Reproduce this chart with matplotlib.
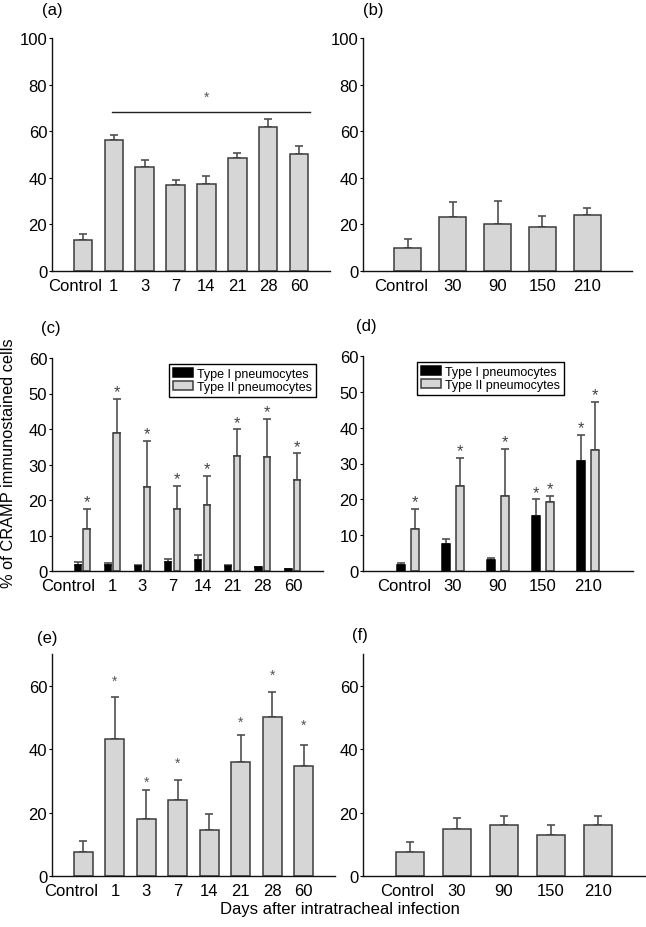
import matplotlib
matplotlib.use('Agg')
import matplotlib.pyplot as plt
import matplotlib.transforms as mtransforms
import numpy as np

plt.rcParams['font.family'] = ['Liberation Sans', 'DejaVu Sans']

# ---------------- data ----------------
early_days = ['Control', '1', '3', '7', '14', '21', '28', '60']
late_days = ['Control', '30', '90', '150', '210']

a_mean = [13.4, 56.1, 44.6, 37.1, 37.3, 48.4, 61.7, 50.3]
a_err = [2.6, 2.3, 3.0, 1.8, 3.3, 2.2, 3.4, 3.4]
a_sig_line_y = 68.4
a_star_y = 74.6

b_mean = [10.0, 23.2, 20.3, 19.0, 24.2]
b_err = [3.6, 6.2, 9.6, 4.6, 2.7]

c_type1_mean = [1.6, 1.6, 1.4, 2.6, 3.2, 1.3, 1.0, 0.5]
c_type1_err = [0.8, 0.7, 0.2, 0.9, 1.4, 0.3, 0.1, 0.0]
c_type2_mean = [11.9, 38.9, 23.8, 17.6, 18.6, 32.4, 32.1, 25.5]
c_type2_err = [5.7, 9.6, 12.8, 6.3, 8.3, 7.5, 10.8, 7.6]
c_type1_sig = [False] * 8
c_type2_sig = [True] * 8

d_type1_mean = [1.6, 7.6, 3.1, 15.4, 30.6]
d_type1_err = [0.6, 1.2, 0.6, 4.6, 7.4]
d_type2_mean = [11.8, 23.6, 21.0, 19.3, 33.8]
d_type2_err = [5.6, 7.9, 13.1, 1.6, 13.5]
d_type1_sig = [False, False, False, True, True]
d_type2_sig = [True, True, True, True, True]

e_mean = [7.7, 43.3, 17.9, 23.9, 14.5, 36.0, 50.1, 34.8]
e_err = [3.4, 13.1, 9.2, 6.5, 5.0, 8.5, 7.9, 6.6]
e_star_y = [None, 61.6, 29.7, 35.7, None, 48.6, 63.3, 47.8]

f_mean = [7.7, 14.8, 16.0, 12.9, 16.0]
f_err = [3.0, 3.4, 2.8, 3.3, 3.0]

series_labels = ['Type I pneumocytes', 'Type II pneumocytes']
ylabel = '% of CRAMP immunostained cells'
xlabel = 'Days after intratracheal infection'

# ---------------- style ----------------
W, H = 646, 928
fig = plt.figure(figsize=(W / 100, H / 100), dpi=100)

FILL = '#d6d6d6'
EDGE = '#3c3c3c'
ERRC = '#505050'
FS = 12


def ax_at(l, r, t, b):
    return fig.add_axes([l / W, 1 - b / H, (r - l) / W, (b - t) / H])


def style(ax, ylim, yticks, labels, ctrl_shift_px):
    ax.set_xlim(-1, len(labels))
    ax.set_ylim(*ylim)
    ax.set_yticks(yticks)
    for s in ('top', 'right'):
        ax.spines[s].set_visible(False)
    for s in ('left', 'bottom'):
        ax.spines[s].set_linewidth(1.0)
        ax.spines[s].set_color('#111111')
    ax.set_xticks(range(len(labels)))
    ax.set_xticklabels(labels)
    ax.tick_params(axis='x', length=0, pad=5, labelsize=FS)
    ax.tick_params(axis='y', length=2.5, width=0.8, pad=1, labelsize=FS, direction='out')
    lab = ax.get_xticklabels()[0]
    off = mtransforms.ScaledTranslation(ctrl_shift_px / 100, 0, fig.dpi_scale_trans)
    lab.set_transform(lab.get_transform() + off)


def bars(ax, x, mean, err, width, color, edge, capsize=2.6):
    ax.errorbar(x, mean, yerr=[np.zeros(len(err)), err], fmt='none', ecolor=ERRC,
                elinewidth=1.2, capsize=capsize, capthick=1.2, zorder=1)
    return ax.bar(x, mean, width, color=color, edgecolor=edge, linewidth=1.1, zorder=2)


# (a)
ax = ax_at(52, 330, 39, 272)
x = np.arange(len(early_days))
bars(ax, x, a_mean, a_err, 0.6, FILL, EDGE)
style(ax, (0, 100), [0, 20, 40, 60, 80, 100], early_days, -8)
ax.plot([0.95, 7.35], [a_sig_line_y, a_sig_line_y], color='#222222', lw=1.0)
ax.text(4.0, a_star_y, '*', ha='center', va='center', fontsize=10, color='#555555')

# (b)
ax = ax_at(363, 632, 39, 272)
x = np.arange(len(late_days))
bars(ax, x, b_mean, b_err, 0.6, FILL, EDGE)
style(ax, (0, 100), [0, 20, 40, 60, 80, 100], late_days, -7)


def grouped(ax, labels, m1, e1, m2, e2, s1, s2, off, width, shift):
    x = np.arange(len(labels))
    h1 = bars(ax, x - off, m1, e1, width, 'black', 'black')
    h2 = bars(ax, x + off, m2, e2, width, FILL, EDGE)
    for xi, m, e, s in zip(x - off, m1, e1, s1):
        if s:
            ax.text(xi, m + e + 2.0, '*', ha='center', va='center', fontsize=12, color='#444444')
    for xi, m, e, s in zip(x + off, m2, e2, s2):
        if s:
            ax.text(xi, m + e + 2.0, '*', ha='center', va='center', fontsize=12, color='#444444')
    style(ax, (0, 60), [0, 10, 20, 30, 40, 50, 60], labels, shift)
    return h1, h2


# (c)
ax = ax_at(52, 323, 359, 572)
h1, h2 = grouped(ax, early_days, c_type1_mean, c_type1_err, c_type2_mean, c_type2_err,
                 c_type1_sig, c_type2_sig, 0.147, 0.21, -14)
ax.legend([h1, h2], series_labels, loc='upper right', bbox_to_anchor=(316 / W, 1 - 365 / H),
          bbox_transform=fig.transFigure, fontsize=9, frameon=True, fancybox=False,
          edgecolor='black', framealpha=1, borderpad=0.3, handlelength=1.6,
          handletextpad=0.35, labelspacing=0.1, borderaxespad=0)

# (d)
ax = ax_at(363, 633, 357, 572)
h1, h2 = grouped(ax, late_days, d_type1_mean, d_type1_err, d_type2_mean, d_type2_err,
                 d_type1_sig, d_type2_sig, 0.153, 0.19, -3.5)
ax.legend([h1, h2], series_labels, loc='upper left', bbox_to_anchor=(417 / W, 1 - 363 / H),
          bbox_transform=fig.transFigure, fontsize=9, frameon=True, fancybox=False,
          edgecolor='black', framealpha=1, borderpad=0.3, handlelength=1.6,
          handletextpad=0.35, labelspacing=0.1, borderaxespad=0)

# (e)
ax = ax_at(52, 335, 655, 877)
x = np.arange(len(early_days))
bars(ax, x, e_mean, e_err, 0.6, FILL, EDGE)
style(ax, (0, 70), [0, 20, 40, 60], early_days, -12)
for xi, sy in zip(x, e_star_y):
    if sy is not None:
        ax.text(xi, sy, '*', ha='center', va='center', fontsize=10, color='#555555')

# (f)
ax = ax_at(363, 645, 655, 877)
x = np.arange(len(late_days))
bars(ax, x, f_mean, f_err, 0.6, FILL, EDGE)
style(ax, (0, 70), [0, 20, 40, 60], late_days, -2.5)

# panel letters
for lab, px, py in [('(a)', 42, 11), ('(b)', 363, 11), ('(c)', 41, 329),
                    ('(d)', 356, 327), ('(e)', 37, 638), ('(f)', 352, 636)]:
    fig.text(px / W, 1 - py / H, lab, ha='left', va='center', fontsize=FS)

fig.text(9 / W, 1 - 463 / H, ylabel, rotation=90, ha='center', va='center', fontsize=11.8)
fig.text(340 / W, 1 - 910 / H, xlabel, ha='center', va='center', fontsize=FS)

fig.savefig('out.png', dpi=100)
